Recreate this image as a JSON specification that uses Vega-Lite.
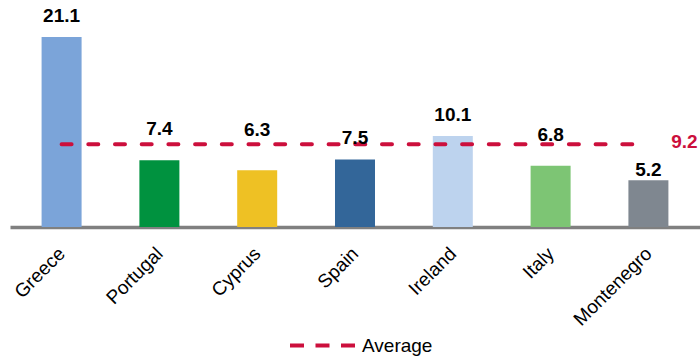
{
  "$schema": "https://vega.github.io/schema/vega-lite/v6.json",
  "width": 690,
  "height": 227,
  "autosize": "none",
  "padding": {"left": 10, "top": 0, "right": 0, "bottom": 131},
  "background": "white",
  "config": {
    "view": {"stroke": null},
    "font": "Liberation Sans"
  },
  "datasets": {
    "countries": [
      {"country": "Greece", "value": 21.1},
      {"country": "Portugal", "value": 7.4},
      {"country": "Cyprus", "value": 6.3},
      {"country": "Spain", "value": 7.5},
      {"country": "Ireland", "value": 10.1},
      {"country": "Italy", "value": 6.8},
      {"country": "Montenegro", "value": 5.2}
    ],
    "average": [
      {"series": "Average", "value": 9.2, "from": "Greece", "to": "Montenegro"}
    ]
  },
  "data": {"name": "countries"},
  "encoding": {
    "x": {
      "field": "country",
      "type": "nominal",
      "sort": null,
      "scale": {
        "domain": ["Greece", "Portugal", "Cyprus", "Spain", "Ireland", "Italy", "Montenegro"],
        "paddingInner": 0.591,
        "paddingOuter": 0.323
      },
      "axis": {
        "title": null,
        "ticks": false,
        "grid": false,
        "domainColor": "#808080",
        "domainWidth": 3.5,
        "labelAngle": -45,
        "labelAlign": "right",
        "labelBaseline": "top",
        "labelPadding": 17,
        "labelOffset": -6,
        "labelFontSize": 19,
        "labelColor": "#000000",
        "labelFont": "Liberation Sans"
      }
    }
  },
  "layer": [
    {
      "mark": {"type": "bar"},
      "encoding": {
        "y": {
          "field": "value",
          "type": "quantitative",
          "scale": {"domain": [0, 25.2], "nice": false, "zero": true},
          "axis": null
        },
        "fill": {
          "field": "country",
          "type": "nominal",
          "scale": {
            "domain": ["Greece", "Portugal", "Cyprus", "Spain", "Ireland", "Italy", "Montenegro"],
            "range": ["#7BA4D9", "#00923F", "#EEC124", "#336699", "#BDD3EE", "#7DC574", "#7F8790"]
          },
          "legend": null
        }
      }
    },
    {
      "data": {"name": "average"},
      "mark": {"type": "rule", "strokeWidth": 4, "strokeDash": [10, 16.7], "strokeCap": "round"},
      "encoding": {
        "x": {"field": "from", "type": "nominal"},
        "x2": {"field": "to"},
        "y": {"field": "value", "type": "quantitative"},
        "stroke": {
          "field": "series",
          "type": "nominal",
          "scale": {"range": ["#CC0F3C"]},
          "legend": {
            "title": null,
            "orient": "none",
            "legendX": 278,
            "legendY": 311,
            "symbolType": "stroke",
            "symbolSize": 4225,
            "symbolStrokeWidth": 4,
            "symbolDash": [14, 11.5],
            "labelFontSize": 19,
            "labelColor": "#000000",
            "labelFont": "Liberation Sans",
            "labelOffset": 5
          }
        }
      }
    },
    {
      "data": {"name": "average"},
      "mark": {"type": "text", "fontSize": 19, "fontWeight": "bold", "color": "#CC0F3C", "align": "center", "baseline": "middle", "dx": 36, "dy": -2},
      "encoding": {
        "x": {"field": "to", "type": "nominal"},
        "y": {"field": "value", "type": "quantitative"},
        "text": {"field": "value", "type": "quantitative", "format": ".1f"}
      }
    },
    {
      "transform": [{"filter": {"field": "country", "oneOf": ["Greece", "Spain", "Ireland"]}}],
      "mark": {"type": "text", "fontSize": 19, "fontWeight": "bold", "color": "#000000", "align": "center", "baseline": "alphabetic", "dy": -15},
      "encoding": {
        "y": {"field": "value", "type": "quantitative"},
        "text": {"field": "value", "type": "quantitative", "format": ".1f"}
      }
    },
    {
      "transform": [{"filter": {"field": "country", "oneOf": ["Portugal", "Italy"]}}],
      "mark": {"type": "text", "fontSize": 19, "fontWeight": "bold", "color": "#000000", "align": "center", "baseline": "alphabetic", "dy": -25},
      "encoding": {
        "y": {"field": "value", "type": "quantitative"},
        "text": {"field": "value", "type": "quantitative", "format": ".1f"}
      }
    },
    {
      "transform": [{"filter": {"field": "country", "equal": "Cyprus"}}],
      "mark": {"type": "text", "fontSize": 19, "fontWeight": "bold", "color": "#000000", "align": "center", "baseline": "alphabetic", "dy": -34},
      "encoding": {
        "y": {"field": "value", "type": "quantitative"},
        "text": {"field": "value", "type": "quantitative", "format": ".1f"}
      }
    },
    {
      "transform": [{"filter": {"field": "country", "equal": "Montenegro"}}],
      "mark": {"type": "text", "fontSize": 19, "fontWeight": "bold", "color": "#000000", "align": "center", "baseline": "alphabetic", "dy": -4},
      "encoding": {
        "y": {"field": "value", "type": "quantitative"},
        "text": {"field": "value", "type": "quantitative", "format": ".1f"}
      }
    }
  ]
}
